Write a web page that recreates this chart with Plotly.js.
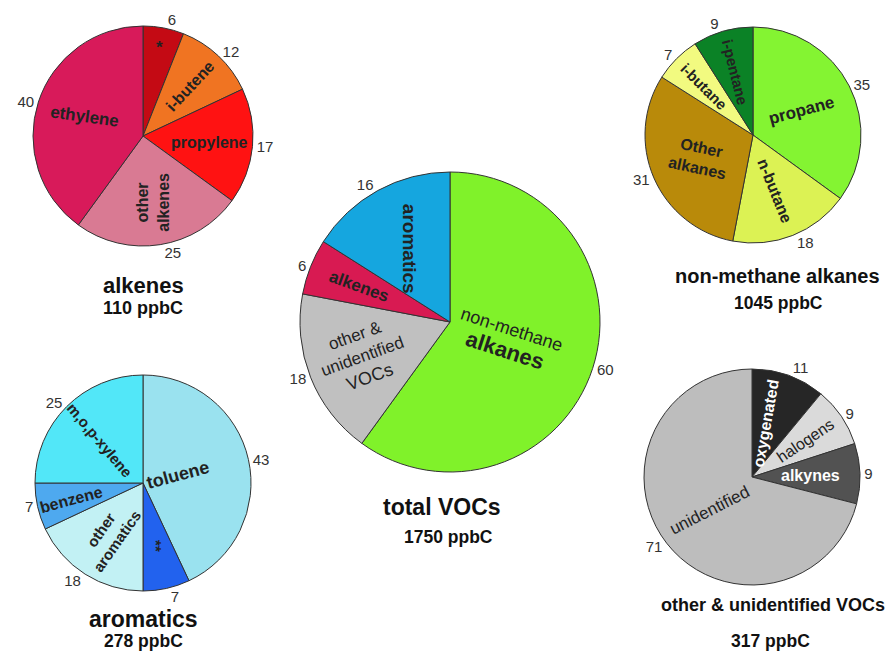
<!DOCTYPE html>
<html><head><meta charset="utf-8">
<script src="https://cdn.plot.ly/plotly-3.0.1.min.js"></script>
<style>html,body{margin:0;padding:0;background:#fff}#chart{width:886px;height:652px}</style>
</head><body><div id="chart"></div>
<script>
// ---------- data ----------
const alkeneLabels = ['*', 'i-butene', 'propylene', 'other alkenes', 'ethylene'];
const alkeneValues = [6, 12, 17, 25, 40];
const totalLabels = ['non-methane alkanes', 'other & unidentified VOCs', 'alkenes', 'aromatics'];
const totalValues = [60, 18, 6, 16];
const alkaneLabels = ['propane', 'n-butane', 'Other alkanes', 'i-butane', 'i-pentane'];
const alkaneValues = [35, 18, 31, 7, 9];
const aromaticLabels = ['toluene', '**', 'other aromatics', 'benzene', 'm,o,p-xylene'];
const aromaticValues = [43, 7, 18, 7, 25];
const otherLabels = ['oxygenated', 'halogens', 'alkynes', 'unidentified'];
const otherValues = [11, 9, 9, 71];
const chartTitles = ['alkenes', 'total VOCs', 'non-methane alkanes', 'aromatics', 'other & unidentified VOCs'];
const chartTotals = ['110 ppbC', '1750 ppbC', '1045 ppbC', '278 ppbC', '317 ppbC'];

// ---------- styles / layout ----------
const W = 886, H = 652;
const FONT = 'Liberation Sans, Arial, sans-serif';
const pies = [
  { labels: alkeneLabels, values: alkeneValues, cx: 143, cy: 136, r: 110,
    colors: ['#c40a14', '#f07422', '#ff1212', '#d97a93', '#d81a5a'],
    text: ['*', 'i-butene', 'propylene', 'other<br>alkenes', 'ethylene'],
    rf: [0.82, 0.62, 0.61, 0.61, 0.56], dth: [0, 0, 0, 0, 0], ang: [0, -47, 0, -90, 8],
    size: [17, 16, 16, 16, 17], bold: [1, 1, 1, 1, 1], tcol: ['#222', '#222', '#222', '#222', '#222'],
    tx: 143, ty: 285, tsize: 22, sx: 143, sy: 308, ssize: 18 },
  { labels: totalLabels, values: totalValues, cx: 450, cy: 322, r: 150,
    colors: ['#80f22a', '#c0c0c0', '#d81a52', '#15a6df'],
    text: ['<span style="font-size:18px">non-methane</span><br><b><span style="font-size:22px">alkanes</span></b>',
           'other &<br>unidentified<br><span style="font-size:18px">VOCs</span>', 'alkenes', 'aromatics'],
    rf: [0.41, 0.63, 0.65, 0.56], dth: [0, 0, 0, 0], ang: [18, -20, 20, 90],
    size: [18, 17, 17, 19], bold: [0, 0, 1, 1], tcol: ['#222', '#222', '#222', '#222'],
    tx: 442, ty: 507, tsize: 23, sx: 448, sy: 537, ssize: 17.5 },
  { labels: alkaneLabels, values: alkaneValues, cx: 753, cy: 135, r: 108,
    colors: ['#84f432', '#dcf254', '#b98a0a', '#f2fa80', '#0b8226'],
    text: ['propane', 'n-butane', 'Other<br>alkanes', 'i-butane', 'i-pentane'],
    rf: [0.5, 0.56, 0.54, 0.64, 0.6], dth: [0, 0, 0, 0, 0], ang: [-15, 68, 12, 45, 76],
    size: [17, 16, 16, 15, 15], bold: [1, 1, 1, 1, 1], tcol: ['#222', '#222', '#222', '#222', '#222'],
    tx: 777, ty: 276, tsize: 20, sx: 778, sy: 303, ssize: 17.5 },
  { labels: aromaticLabels, values: aromaticValues, cx: 143, cy: 483, r: 108,
    colors: ['#9ae2ef', '#2262ee', '#c2f1f4', '#4ea9ef', '#52e7f8'],
    text: ['toluene', '**', 'other<br>aromatics', 'benzene', 'm,o,p-xylene'],
    rf: [0.33, 0.6, 0.58, 0.68, 0.56], dth: [0, 0, 0, 0, 0], ang: [-15, 90, -55, -15, 50],
    size: [18, 15, 15, 16, 15], bold: [1, 1, 1, 1, 1], tcol: ['#222', '#222', '#222', '#222', '#222'],
    tx: 143, ty: 619, tsize: 23, sx: 143, sy: 641, ssize: 17.5 },
  { labels: otherLabels, values: otherValues, cx: 752, cy: 477, r: 108,
    colors: ['#262626', '#dadada', '#525252', '#bdbdbd'],
    text: ['oxygenated', 'halogens', 'alkynes', 'unidentified'],
    rf: [0.51, 0.6, 0.54, 0.5], dth: [-5, 0, 0, 0], ang: [-80, -34, 0, -27],
    size: [16, 16, 16, 17], bold: [1, 0, 1, 0], tcol: ['#fff', '#222', '#fff', '#222'],
    tx: 773, ty: 605, tsize: 18, sx: 770, sy: 641, ssize: 17.5 }
];

const data = [];
const annotations = [];
pies.forEach(function (p, k) {
  data.push({
    type: 'pie', labels: p.labels, values: p.values, sort: false,
    direction: 'clockwise', rotation: 0,
    marker: { colors: p.colors, line: { color: '#333', width: 1 } },
    textposition: 'outside', texttemplate: '%{value}',
    textfont: { family: FONT, size: 15, color: '#333' },
    hoverinfo: 'none', showlegend: false,
    domain: { x: [(p.cx - p.r) / W, (p.cx + p.r) / W], y: [1 - (p.cy + p.r) / H, 1 - (p.cy - p.r) / H] }
  });
  const tot = p.values.reduce(function (a, b) { return a + b; }, 0);
  let cum = 0;
  p.values.forEach(function (v, i) {
    const th = 2 * Math.PI * (cum + v / 2) / tot + p.dth[i] * Math.PI / 180;
    cum += v;
    const px = p.cx + p.rf[i] * p.r * Math.sin(th);
    const py = p.cy - p.rf[i] * p.r * Math.cos(th);
    annotations.push({
      xref: 'paper', yref: 'paper', x: px / W, y: 1 - py / H, xanchor: 'center', yanchor: 'middle',
      text: p.bold[i] ? '<b>' + p.text[i] + '</b>' : p.text[i], textangle: p.ang[i], showarrow: false,
      font: { family: FONT, size: p.size[i], color: p.tcol[i] }
    });
  });
  annotations.push({ xref: 'paper', yref: 'paper', x: p.tx / W, y: 1 - p.ty / H, xanchor: 'center', yanchor: 'middle',
    text: '<b>' + chartTitles[k] + '</b>', showarrow: false, font: { family: FONT, size: p.tsize, color: '#111' } });
  annotations.push({ xref: 'paper', yref: 'paper', x: p.sx / W, y: 1 - p.sy / H, xanchor: 'center', yanchor: 'middle',
    text: '<b>' + chartTotals[k] + '</b>', showarrow: false, font: { family: FONT, size: p.ssize, color: '#111' } });
});

Plotly.newPlot('chart', data, {
  width: W, height: H, margin: { l: 0, r: 0, t: 0, b: 0 },
  paper_bgcolor: '#fff', plot_bgcolor: '#fff', showlegend: false,
  annotations: annotations
}, { staticPlot: true });
</script>
</body></html>
